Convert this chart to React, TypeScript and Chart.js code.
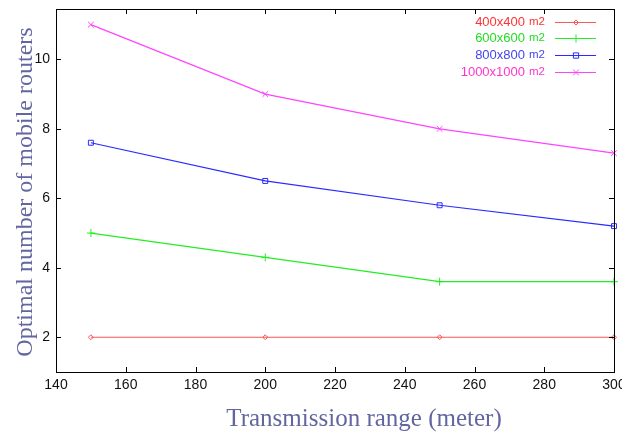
import React, { useEffect, useRef } from "react";
import { Chart, registerables } from "chart.js";

Chart.register(...registerables);

const ranges = [150, 200, 250, 300];
const area400 = [2, 2, 2, 2];
const area600 = [5, 4.3, 3.6, 3.6];
const area800 = [7.6, 6.5, 5.8, 5.2];
const area1000 = [11, 9, 8, 7.3];
const seriesNames = ["400x400", "600x600", "800x800", "1000x1000"];
const yTickValues = [2, 4, 6, 8, 10];
const xTitle = "Transmission range (meter)";
const yTitle = "Optimal number of mobile routers";

const colors = ["#ff5555", "#22ee22", "#2a2aff", "#ff44ff"];
const textColors = ["#ff3333", "#22dd22", "#4444ee", "#ff33cc"];
const markers = ["rectRot", "cross", "rect", "crossRot"];
const markerSizes = [2.5, 4, 3.5, 4];

export default function App() {
  const ref = useRef<HTMLCanvasElement>(null);
  useEffect(() => {
    document.body.style.margin = "0";
    const all = [area400, area600, area800, area1000];
    const titleColor = "#6266a0";
    const boxPlugin = {
      id: "boxPlugin",
      afterDraw(chart: any) {
        const { ctx, chartArea: a, scales } = chart;
        ctx.save();
        ctx.strokeStyle = "#000";
        ctx.lineWidth = 1;
        ctx.strokeRect(Math.round(a.left) + 0.5, Math.round(a.top) + 0.5, Math.round(a.right - a.left), Math.round(a.bottom - a.top));
        const tl = 5;
        ctx.beginPath();
        scales.x.ticks.forEach((t: any) => {
          const px = Math.round(scales.x.getPixelForValue(t.value)) + 0.5;
          ctx.moveTo(px, a.bottom);
          ctx.lineTo(px, a.bottom - tl);
          ctx.moveTo(px, a.top);
          ctx.lineTo(px, a.top + tl);
        });
        scales.y.ticks.forEach((t: any) => {
          const py = Math.round(scales.y.getPixelForValue(t.value)) + 0.5;
          ctx.moveTo(a.left, py);
          ctx.lineTo(a.left + tl, py);
          ctx.moveTo(a.right, py);
          ctx.lineTo(a.right - tl, py);
        });
        ctx.stroke();

        // axis titles
        ctx.fillStyle = titleColor;
        ctx.textAlign = "center";
        ctx.textBaseline = "alphabetic";
        ctx.font = "25px 'Liberation Serif', 'Times New Roman', serif";
        ctx.fillText(xTitle, 364, 426);
        ctx.save();
        ctx.font = "24px 'Liberation Serif', 'Times New Roman', serif";
        ctx.translate(32, 192);
        ctx.rotate(-Math.PI / 2);
        ctx.fillText(yTitle, 0, 0);
        ctx.restore();

        // legend
        const rightText = 545;
        const rows = [22, 38, 55, 72];
        seriesNames.forEach((name, i) => {
          const y = rows[i];
          ctx.textBaseline = "middle";
          ctx.textAlign = "right";
          ctx.fillStyle = textColors[i];
          ctx.font = "11.5px 'Liberation Sans', Arial, sans-serif";
          ctx.fillText("m2", rightText, y);
          const w = ctx.measureText("m2").width;
          ctx.font = "13px 'Liberation Sans', Arial, sans-serif";
          ctx.fillText(name, rightText - w - 4, y);
          ctx.strokeStyle = colors[i];
          ctx.lineWidth = 1.2;
          ctx.beginPath();
          ctx.moveTo(555, y + 0.5);
          ctx.lineTo(596, y + 0.5);
          ctx.stroke();
          const x = 576;
          const yy = y + 0.5;
          const r = markerSizes[i];
          ctx.lineWidth = 1;
          ctx.beginPath();
          if (markers[i] === "rectRot") {
            ctx.moveTo(x, yy - r); ctx.lineTo(x + r, yy); ctx.lineTo(x, yy + r); ctx.lineTo(x - r, yy); ctx.closePath();
          } else if (markers[i] === "cross") {
            ctx.moveTo(x, yy - r); ctx.lineTo(x, yy + r); ctx.moveTo(x - r, yy); ctx.lineTo(x + r, yy);
          } else if (markers[i] === "rect") {
            const s = r * 0.75;
            ctx.rect(x - s, yy - s, 2 * s, 2 * s);
          } else {
            const s = r * 0.7;
            ctx.moveTo(x - s, yy - s); ctx.lineTo(x + s, yy + s); ctx.moveTo(x + s, yy - s); ctx.lineTo(x - s, yy + s);
          }
          ctx.stroke();
        });
        ctx.restore();
      },
    };
    const chart = new Chart(ref.current!, {
      type: "line",
      data: {
        datasets: all.map((vals, i) => ({
          label: seriesNames[i] + " m2",
          data: vals.map((v, j) => ({ x: ranges[j], y: v })),
          borderColor: colors[i],
          backgroundColor: "rgba(0,0,0,0)",
          borderWidth: 1.2,
          pointStyle: markers[i] as any,
          pointRadius: markerSizes[i],
          pointBorderColor: colors[i],
          pointBorderWidth: 1,
          pointBackgroundColor: "rgba(0,0,0,0)",
          tension: 0,
          clip: false as any,
        })),
      },
      options: {
        animation: false,
        responsive: false,
        layout: { autoPadding: false, padding: { top: 9, right: 8, left: 0, bottom: 0 } } as any,
        plugins: {
          legend: { display: false },
          tooltip: { enabled: false },
        },
        scales: {
          x: {
            type: "linear",
            min: 140,
            max: 300,
            ticks: {
              stepSize: 20,
              color: "#111",
              font: { family: "'Liberation Sans', Arial, sans-serif", size: 14 },
              padding: 5,
            },
            grid: { display: false, drawTicks: false },
            border: { display: false },
            title: { display: false },
            afterFit(scale: any) {
              scale.height = 60;
              scale.paddingLeft = 0;
              scale.paddingRight = 0;
            },
          },
          y: {
            type: "linear",
            min: 1,
            max: 11.45,
            afterBuildTicks(scale: any) {
              scale.ticks = yTickValues.map((v) => ({ value: v }));
            },
            ticks: {
              color: "#111",
              font: { family: "'Liberation Sans', Arial, sans-serif", size: 14 },
              padding: 6,
            },
            grid: { display: false, drawTicks: false },
            border: { display: false },
            title: { display: false },
            afterFit(scale: any) {
              scale.width = 56;
              scale.paddingTop = 0;
              scale.paddingBottom = 0;
            },
          },
        },
      },
      plugins: [boxPlugin],
    });
    return () => chart.destroy();
  }, []);
  return (
    <div style={{ width: 622, height: 432, background: "#fff" }}>
      <canvas ref={ref} width={622} height={432} style={{ display: "block" }} />
    </div>
  );
}
